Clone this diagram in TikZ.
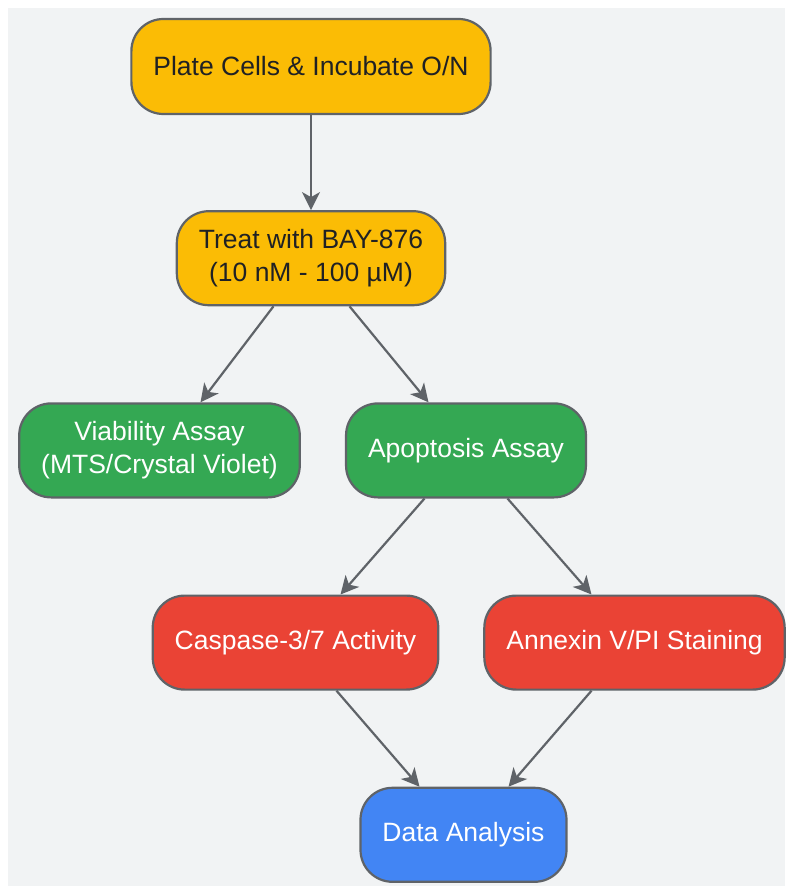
\documentclass[tikz,border=0pt]{standalone}
\usepackage{fontspec}
\setmainfont{Liberation Sans}
\usepackage{tikz}
\usetikzlibrary{positioning,arrows.meta}

\definecolor{bgcol}{HTML}{F1F3F4}
\definecolor{linecol}{HTML}{5F6368}
\definecolor{prepcol}{HTML}{FBBC05}
\definecolor{assaycol}{HTML}{34A853}
\definecolor{readcol}{HTML}{EA4335}
\definecolor{datacol}{HTML}{4285F4}
\definecolor{darktext}{HTML}{202124}

\tikzset{
  box/.style={draw=linecol, line width=2.2pt, rounded corners=32pt,
    minimum height=94pt, inner xsep=22pt, align=center,
    font=\fontsize{26.5}{33}\selectfont},
  prep/.style={box, fill=prepcol, text=darktext},
  assay/.style={box, fill=assaycol, text=white},
  readout/.style={box, fill=readcol, text=white},
  result/.style={box, fill=datacol, text=white},
  edge/.style={draw=linecol, line width=2.2pt,
    -{Stealth[length=18pt, width=18pt, inset=5pt]}}
}

\begin{document}
\begin{tikzpicture}[x=1pt, y=-1pt]
            \useasboundingbox (0,0) rectangle (785,886);
            \fill[bgcol] (8,8) rectangle (785,886);

            \node[prep, minimum height=95pt]                    (plate) at (311,66.5) {Plate Cells \& Incubate O/N};
            \node[prep, below=95pt of plate]                    (treat) {Treat with BAY-876\\(10 nM - 100 µM)};
            \node[assay, below=96pt of treat, xshift=-151.5pt]  (via) {Viability Assay\\(MTS/Crystal Violet)};
            \node[assay, below=96pt of treat, xshift=155pt]     (apop) {Apoptosis Assay};
            \node[readout, below=96pt of apop, xshift=-170.5pt] (casp) {Caspase-3/7 Activity};
            \node[readout, below=96pt of apop, xshift=168.5pt]  (annex) {Annexin V/PI Staining};
            \node[result, below=96pt of casp, xshift=168pt]     (data) {Data Analysis};

            \draw[edge] (plate) -- (treat);
            \draw[edge] ([xshift=-37.5pt]treat.south) -- ([xshift=41pt]via.north);
            \draw[edge] ([xshift=38.5pt]treat.south) -- ([xshift=-37.5pt]apop.north);
            \draw[edge] ([xshift=-41.5pt]apop.south) -- ([xshift=45pt]casp.north);
            \draw[edge] ([xshift=41.5pt]apop.south) -- ([xshift=-43pt]annex.north);
            \draw[edge] ([xshift=41pt]casp.south) -- ([xshift=-44pt]data.north);
            \draw[edge] ([xshift=-43pt]annex.south) -- ([xshift=45pt]data.north);
        \end{tikzpicture}
\end{document}
